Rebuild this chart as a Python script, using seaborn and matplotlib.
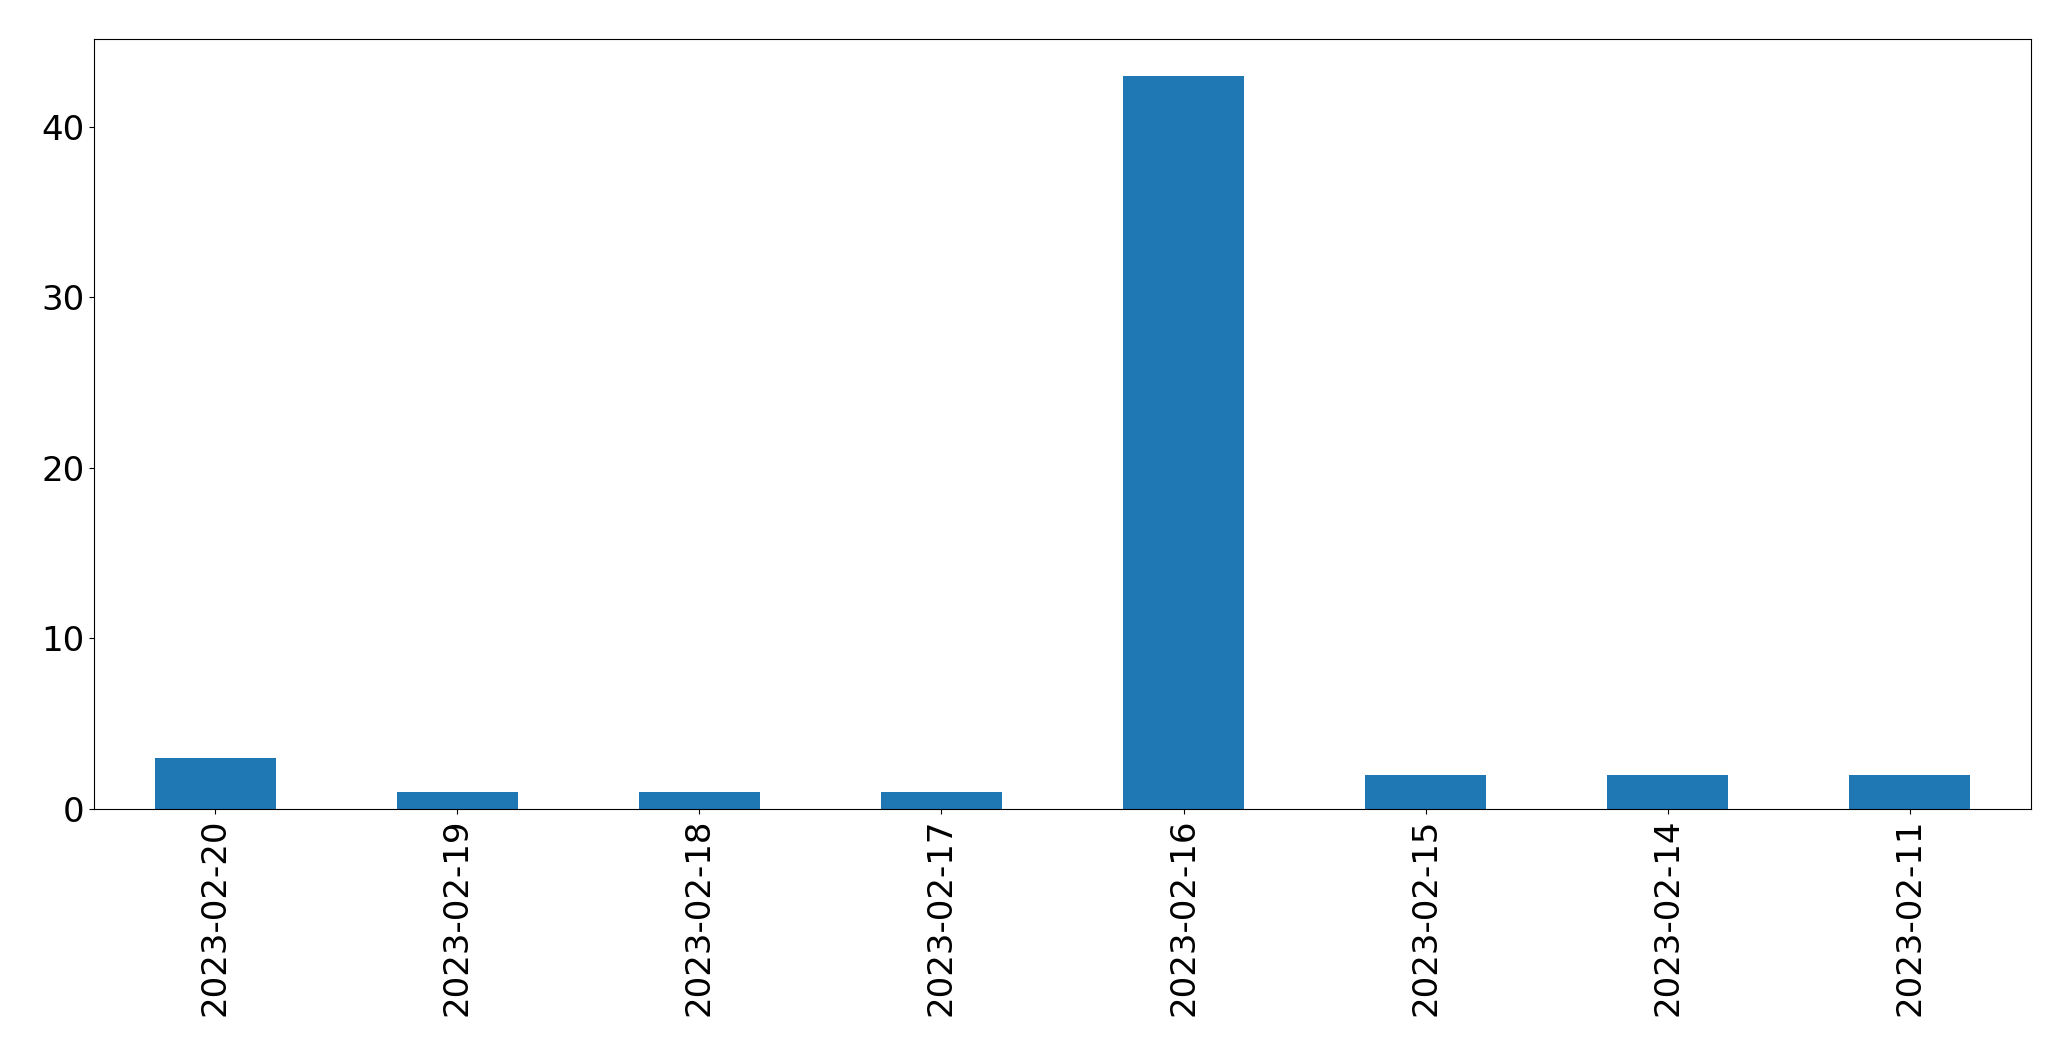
import pandas as pd
import matplotlib
matplotlib.use("Agg")
import matplotlib.pyplot as plt
import seaborn as sns

dates = ["2023-02-20", "2023-02-19", "2023-02-18", "2023-02-17",
         "2023-02-16", "2023-02-15", "2023-02-14", "2023-02-11"]
counts = [3, 1, 1, 1, 43, 2, 2, 2]

df = pd.DataFrame({"date": dates, "count": counts})

fig = plt.figure(figsize=(20.71, 10.61), dpi=100)
ax = fig.add_axes([94 / 2071, 1 - 809 / 1061, (2031 - 94) / 2071, (809 - 39) / 1061])

sns.barplot(data=df, x="date", y="count", order=dates, color="#1f77b4",
            saturation=1, width=0.5, linewidth=0, ax=ax)

ax.set_xlim(-0.5, len(dates) - 0.5)
ax.set_ylim(0, max(counts) * 1.05)
ax.set_xlabel("")
ax.set_ylabel("")
ax.tick_params(axis="both", labelsize=24.5)
ax.tick_params(axis="x", labelrotation=90)

fig.savefig("out.png", dpi=100)
